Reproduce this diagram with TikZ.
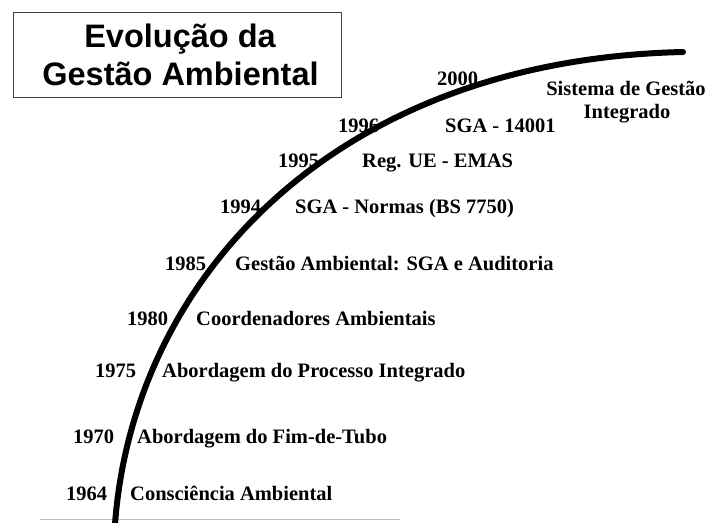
\documentclass[tikz,border=0pt]{standalone}
\usepackage{fontspec}
\setmainfont{Liberation Serif}
\newfontfamily\titlefont{Liberation Sans}
\begin{document}
\begin{tikzpicture}[x=1pt,y=-1pt,
  lbl/.style={inner sep=0pt,anchor=base west,font=\bfseries\fontsize{20.5}{24}\selectfont},
  yr/.style={lbl},
  titlebox/.style={draw=black!75,line width=1pt},
  ttl/.style={inner sep=0pt,anchor=base,font=\titlefont\bfseries\fontsize{32.5}{38}\selectfont},
  curve/.style={line width=6pt,line cap=round}]
\useasboundingbox (0,0) rectangle (709,522);
% title
\draw[titlebox] (13,12) rectangle (341,97);
\node[ttl] (t1) at (180,47) {Evolução da};
\node[ttl] (t2) at (180.5,85) {Gestão Ambiental};
% faint scan line
\draw[black!25,line width=1pt] (40,519) -- (400,519);
% curve
\coordinate (cstart) at (115,524);
\coordinate (cend) at (683,52);
\draw[curve] (cstart) .. controls (133,282) and (330,60) .. (cend);
% years
\node[yr] (y1964) at (66,500) {1964};
\node[yr] (y1970) at (73,443) {1970};
\node[yr] (y1975) at (95,377) {1975};
\node[yr] (y1980) at (127,325) {1980};
\node[yr] (y1985) at (165,270) {1985};
\node[yr] (y1994) at (220,213) {1994};
\node[yr] (y1995) at (278,167) {1995};
\node[yr] (y1996) at (338,132) {1996};
\node[yr] (y2000) at (437,85) {2000};
% labels
\node[lbl] (l1964) at (130,500) {Consciência Ambiental};
\node[lbl] (l1970) at (137,443) {Abordagem do Fim-de-Tubo};
\node[lbl] (l1975) at (162,377) {Abordagem do Processo Integrado};
\node[lbl] (l1980) at (196,325) {Coordenadores Ambientais};
\node[lbl] (l1985) at (235,270) {Gestão Ambiental: SGA e Auditoria};
\node[lbl] (l1994) at (295,213) {SGA - Normas (BS 7750)};
\node[lbl] (l1995) at (362,167) {Reg. UE - EMAS};
\node[lbl] (l1996) at (445,132) {SGA - 14001};
\node[lbl,anchor=base] (l2000a) at (626,95) {Sistema de Gestão};
\node[lbl,anchor=base] (l2000b) at (627,118) {Integrado};
\end{tikzpicture}
\end{document}
